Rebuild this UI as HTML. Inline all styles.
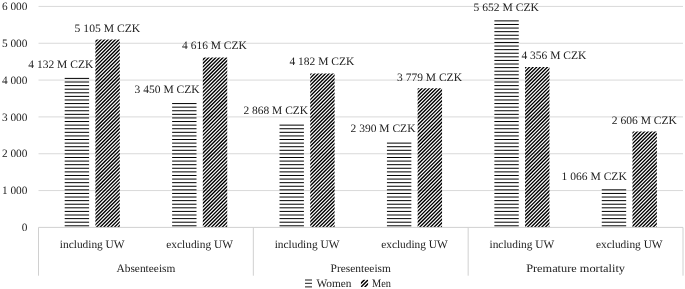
<!DOCTYPE html>
<html><head><meta charset="utf-8"><title>Chart</title>
<style>html,body{margin:0;padding:0;background:#fff;}body{width:685px;height:289px;overflow:hidden;}svg{display:block;will-change:transform;}text{font-family:"Liberation Serif", serif;font-size:11.3px;fill:#1c1c1c;text-rendering:geometricPrecision;}</style>
</head><body>
<svg width="685" height="289" viewBox="0 0 685 289">
<defs>
<clipPath id="mc0"><rect x="95.40" y="39.38" width="24.40" height="188.02"/></clipPath>
<clipPath id="mc1"><rect x="202.82" y="57.39" width="24.40" height="170.01"/></clipPath>
<clipPath id="mc2"><rect x="310.23" y="73.38" width="24.40" height="154.02"/></clipPath>
<clipPath id="mc3"><rect x="417.65" y="88.22" width="24.40" height="139.18"/></clipPath>
<clipPath id="mc4"><rect x="525.07" y="66.97" width="24.40" height="160.43"/></clipPath>
<clipPath id="mc5"><rect x="632.48" y="131.42" width="24.40" height="95.98"/></clipPath>
<clipPath id="lc"><rect x="360.9" y="279.8" width="7.2" height="7.2"/></clipPath>
</defs>
<rect width="685" height="289" fill="#fff"/>
<line x1="38.50" y1="190.57" x2="683.00" y2="190.57" stroke="#d9d9d9" stroke-width="1"/>
<line x1="38.50" y1="153.74" x2="683.00" y2="153.74" stroke="#d9d9d9" stroke-width="1"/>
<line x1="38.50" y1="116.91" x2="683.00" y2="116.91" stroke="#d9d9d9" stroke-width="1"/>
<line x1="38.50" y1="80.08" x2="683.00" y2="80.08" stroke="#d9d9d9" stroke-width="1"/>
<line x1="38.50" y1="43.25" x2="683.00" y2="43.25" stroke="#d9d9d9" stroke-width="1"/>
<line x1="38.50" y1="6.42" x2="683.00" y2="6.42" stroke="#d9d9d9" stroke-width="1"/>
<text x="27.4" y="231.15" text-anchor="end">0</text>
<text x="27.4" y="194.32" text-anchor="end">1 000</text>
<text x="27.4" y="157.49" text-anchor="end">2 000</text>
<text x="27.4" y="120.66" text-anchor="end">3 000</text>
<text x="27.4" y="83.83" text-anchor="end">4 000</text>
<text x="27.4" y="47.00" text-anchor="end">5 000</text>
<text x="27.4" y="10.17" text-anchor="end">6 000</text>
<path d="M64.70 225.800h24.40M64.70 222.205h24.40M64.70 218.610h24.40M64.70 215.015h24.40M64.70 211.420h24.40M64.70 207.825h24.40M64.70 204.230h24.40M64.70 200.635h24.40M64.70 197.040h24.40M64.70 193.445h24.40M64.70 189.850h24.40M64.70 186.255h24.40M64.70 182.660h24.40M64.70 179.065h24.40M64.70 175.470h24.40M64.70 171.875h24.40M64.70 168.280h24.40M64.70 164.685h24.40M64.70 161.090h24.40M64.70 157.495h24.40M64.70 153.900h24.40M64.70 150.305h24.40M64.70 146.710h24.40M64.70 143.115h24.40M64.70 139.520h24.40M64.70 135.925h24.40M64.70 132.330h24.40M64.70 128.735h24.40M64.70 125.140h24.40M64.70 121.545h24.40M64.70 117.950h24.40M64.70 114.355h24.40M64.70 110.760h24.40M64.70 107.165h24.40M64.70 103.570h24.40M64.70 99.975h24.40M64.70 96.380h24.40M64.70 92.785h24.40M64.70 89.190h24.40M64.70 85.595h24.40M64.70 82.000h24.40M64.70 78.405h24.40M172.12 225.800h24.40M172.12 222.205h24.40M172.12 218.610h24.40M172.12 215.015h24.40M172.12 211.420h24.40M172.12 207.825h24.40M172.12 204.230h24.40M172.12 200.635h24.40M172.12 197.040h24.40M172.12 193.445h24.40M172.12 189.850h24.40M172.12 186.255h24.40M172.12 182.660h24.40M172.12 179.065h24.40M172.12 175.470h24.40M172.12 171.875h24.40M172.12 168.280h24.40M172.12 164.685h24.40M172.12 161.090h24.40M172.12 157.495h24.40M172.12 153.900h24.40M172.12 150.305h24.40M172.12 146.710h24.40M172.12 143.115h24.40M172.12 139.520h24.40M172.12 135.925h24.40M172.12 132.330h24.40M172.12 128.735h24.40M172.12 125.140h24.40M172.12 121.545h24.40M172.12 117.950h24.40M172.12 114.355h24.40M172.12 110.760h24.40M172.12 107.165h24.40M172.12 103.570h24.40M279.53 225.800h24.40M279.53 222.205h24.40M279.53 218.610h24.40M279.53 215.015h24.40M279.53 211.420h24.40M279.53 207.825h24.40M279.53 204.230h24.40M279.53 200.635h24.40M279.53 197.040h24.40M279.53 193.445h24.40M279.53 189.850h24.40M279.53 186.255h24.40M279.53 182.660h24.40M279.53 179.065h24.40M279.53 175.470h24.40M279.53 171.875h24.40M279.53 168.280h24.40M279.53 164.685h24.40M279.53 161.090h24.40M279.53 157.495h24.40M279.53 153.900h24.40M279.53 150.305h24.40M279.53 146.710h24.40M279.53 143.115h24.40M279.53 139.520h24.40M279.53 135.925h24.40M279.53 132.330h24.40M279.53 128.735h24.40M279.53 125.140h24.40M386.95 225.800h24.40M386.95 222.205h24.40M386.95 218.610h24.40M386.95 215.015h24.40M386.95 211.420h24.40M386.95 207.825h24.40M386.95 204.230h24.40M386.95 200.635h24.40M386.95 197.040h24.40M386.95 193.445h24.40M386.95 189.850h24.40M386.95 186.255h24.40M386.95 182.660h24.40M386.95 179.065h24.40M386.95 175.470h24.40M386.95 171.875h24.40M386.95 168.280h24.40M386.95 164.685h24.40M386.95 161.090h24.40M386.95 157.495h24.40M386.95 153.900h24.40M386.95 150.305h24.40M386.95 146.710h24.40M386.95 143.115h24.40M494.37 225.800h24.40M494.37 222.205h24.40M494.37 218.610h24.40M494.37 215.015h24.40M494.37 211.420h24.40M494.37 207.825h24.40M494.37 204.230h24.40M494.37 200.635h24.40M494.37 197.040h24.40M494.37 193.445h24.40M494.37 189.850h24.40M494.37 186.255h24.40M494.37 182.660h24.40M494.37 179.065h24.40M494.37 175.470h24.40M494.37 171.875h24.40M494.37 168.280h24.40M494.37 164.685h24.40M494.37 161.090h24.40M494.37 157.495h24.40M494.37 153.900h24.40M494.37 150.305h24.40M494.37 146.710h24.40M494.37 143.115h24.40M494.37 139.520h24.40M494.37 135.925h24.40M494.37 132.330h24.40M494.37 128.735h24.40M494.37 125.140h24.40M494.37 121.545h24.40M494.37 117.950h24.40M494.37 114.355h24.40M494.37 110.760h24.40M494.37 107.165h24.40M494.37 103.570h24.40M494.37 99.975h24.40M494.37 96.380h24.40M494.37 92.785h24.40M494.37 89.190h24.40M494.37 85.595h24.40M494.37 82.000h24.40M494.37 78.405h24.40M494.37 74.810h24.40M494.37 71.215h24.40M494.37 67.620h24.40M494.37 64.025h24.40M494.37 60.430h24.40M494.37 56.835h24.40M494.37 53.240h24.40M494.37 49.645h24.40M494.37 46.050h24.40M494.37 42.455h24.40M494.37 38.860h24.40M494.37 35.265h24.40M494.37 31.670h24.40M494.37 28.075h24.40M494.37 24.480h24.40M494.37 20.885h24.40M601.78 225.800h24.40M601.78 222.205h24.40M601.78 218.610h24.40M601.78 215.015h24.40M601.78 211.420h24.40M601.78 207.825h24.40M601.78 204.230h24.40M601.78 200.635h24.40M601.78 197.040h24.40M601.78 193.445h24.40M601.78 189.850h24.40" stroke="#000" stroke-width="1.00" fill="none"/>
<path d="M93.40 40.01L96.03 37.38M93.40 43.60L99.62 37.38M93.40 47.19L103.21 37.38M93.40 50.78L106.80 37.38M93.40 54.37L110.39 37.38M93.40 57.96L113.98 37.38M93.40 61.56L117.57 37.38M93.40 65.15L121.16 37.38M93.40 68.74L121.80 40.34M93.40 72.33L121.80 43.93M93.40 75.92L121.80 47.52M93.40 79.51L121.80 51.11M93.40 83.10L121.80 54.70M93.40 86.69L121.80 58.29M93.40 90.28L121.80 61.88M93.40 93.87L121.80 65.47M93.40 97.46L121.80 69.06M93.40 101.05L121.80 72.65M93.40 104.64L121.80 76.24M93.40 108.23L121.80 79.83M93.40 111.82L121.80 83.42M93.40 115.41L121.80 87.01M93.40 119.00L121.80 90.60M93.40 122.60L121.80 94.20M93.40 126.19L121.80 97.79M93.40 129.78L121.80 101.38M93.40 133.37L121.80 104.97M93.40 136.96L121.80 108.56M93.40 140.55L121.80 112.15M93.40 144.14L121.80 115.74M93.40 147.73L121.80 119.33M93.40 151.32L121.80 122.92M93.40 154.91L121.80 126.51M93.40 158.50L121.80 130.10M93.40 162.09L121.80 133.69M93.40 165.68L121.80 137.28M93.40 169.27L121.80 140.87M93.40 172.86L121.80 144.46M93.40 176.45L121.80 148.05M93.40 180.04L121.80 151.64M93.40 183.64L121.80 155.24M93.40 187.23L121.80 158.83M93.40 190.82L121.80 162.42M93.40 194.41L121.80 166.01M93.40 198.00L121.80 169.60M93.40 201.59L121.80 173.19M93.40 205.18L121.80 176.78M93.40 208.77L121.80 180.37M93.40 212.36L121.80 183.96M93.40 215.95L121.80 187.55M93.40 219.54L121.80 191.14M93.40 223.13L121.80 194.73M93.40 226.72L121.80 198.32M94.31 229.40L121.80 201.91M97.90 229.40L121.80 205.50M101.49 229.40L121.80 209.09M105.09 229.40L121.80 212.69M108.68 229.40L121.80 216.28M112.27 229.40L121.80 219.87M115.86 229.40L121.80 223.46M119.45 229.40L121.80 227.05" stroke="#000" stroke-width="1.35" fill="none" clip-path="url(#mc0)"/>
<path d="M200.82 58.27L203.69 55.39M200.82 61.86L207.28 55.39M200.82 65.45L210.87 55.39M200.82 69.04L214.46 55.39M200.82 72.63L218.05 55.39M200.82 76.22L221.64 55.39M200.82 79.81L225.23 55.39M200.82 83.40L228.82 55.39M200.82 86.99L229.22 58.59M200.82 90.58L229.22 62.18M200.82 94.17L229.22 65.77M200.82 97.76L229.22 69.36M200.82 101.35L229.22 72.95M200.82 104.94L229.22 76.54M200.82 108.53L229.22 80.13M200.82 112.12L229.22 83.72M200.82 115.72L229.22 87.32M200.82 119.31L229.22 90.91M200.82 122.90L229.22 94.50M200.82 126.49L229.22 98.09M200.82 130.08L229.22 101.68M200.82 133.67L229.22 105.27M200.82 137.26L229.22 108.86M200.82 140.85L229.22 112.45M200.82 144.44L229.22 116.04M200.82 148.03L229.22 119.63M200.82 151.62L229.22 123.22M200.82 155.21L229.22 126.81M200.82 158.80L229.22 130.40M200.82 162.39L229.22 133.99M200.82 165.98L229.22 137.58M200.82 169.57L229.22 141.17M200.82 173.17L229.22 144.77M200.82 176.76L229.22 148.36M200.82 180.35L229.22 151.95M200.82 183.94L229.22 155.54M200.82 187.53L229.22 159.13M200.82 191.12L229.22 162.72M200.82 194.71L229.22 166.31M200.82 198.30L229.22 169.90M200.82 201.89L229.22 173.49M200.82 205.48L229.22 177.08M200.82 209.07L229.22 180.67M200.82 212.66L229.22 184.26M200.82 216.25L229.22 187.85M200.82 219.84L229.22 191.44M200.82 223.43L229.22 195.03M200.82 227.02L229.22 198.62M202.03 229.40L229.22 202.21M205.62 229.40L229.22 205.81M209.21 229.40L229.22 209.40M212.80 229.40L229.22 212.99M216.39 229.40L229.22 216.58M219.98 229.40L229.22 220.17M223.57 229.40L229.22 223.76M227.17 229.40L229.22 227.35" stroke="#000" stroke-width="1.35" fill="none" clip-path="url(#mc1)"/>
<path d="M308.23 72.93L309.79 71.38M308.23 76.52L313.38 71.38M308.23 80.11L316.97 71.38M308.23 83.70L320.56 71.38M308.23 87.29L324.15 71.38M308.23 90.88L327.74 71.38M308.23 94.47L331.33 71.38M308.23 98.06L334.92 71.38M308.23 101.65L336.63 73.25M308.23 105.25L336.63 76.85M308.23 108.84L336.63 80.44M308.23 112.43L336.63 84.03M308.23 116.02L336.63 87.62M308.23 119.61L336.63 91.21M308.23 123.20L336.63 94.80M308.23 126.79L336.63 98.39M308.23 130.38L336.63 101.98M308.23 133.97L336.63 105.57M308.23 137.56L336.63 109.16M308.23 141.15L336.63 112.75M308.23 144.74L336.63 116.34M308.23 148.33L336.63 119.93M308.23 151.92L336.63 123.52M308.23 155.51L336.63 127.11M308.23 159.10L336.63 130.70M308.23 162.69L336.63 134.29M308.23 166.29L336.63 137.89M308.23 169.88L336.63 141.48M308.23 173.47L336.63 145.07M308.23 177.06L336.63 148.66M308.23 180.65L336.63 152.25M308.23 184.24L336.63 155.84M308.23 187.83L336.63 159.43M308.23 191.42L336.63 163.02M308.23 195.01L336.63 166.61M308.23 198.60L336.63 170.20M308.23 202.19L336.63 173.79M308.23 205.78L336.63 177.38M308.23 209.37L336.63 180.97M308.23 212.96L336.63 184.56M308.23 216.55L336.63 188.15M308.23 220.14L336.63 191.74M308.23 223.73L336.63 195.33M308.23 227.33L336.63 198.93M309.75 229.40L336.63 202.52M313.34 229.40L336.63 206.11M316.93 229.40L336.63 209.70M320.52 229.40L336.63 213.29M324.11 229.40L336.63 216.88M327.70 229.40L336.63 220.47M331.29 229.40L336.63 224.06M334.88 229.40L336.63 227.65" stroke="#000" stroke-width="1.35" fill="none" clip-path="url(#mc2)"/>
<path d="M415.65 87.59L417.02 86.22M415.65 91.18L420.61 86.22M415.65 94.77L424.21 86.22M415.65 98.37L427.80 86.22M415.65 101.96L431.39 86.22M415.65 105.55L434.98 86.22M415.65 109.14L438.57 86.22M415.65 112.73L442.16 86.22M415.65 116.32L444.05 87.92M415.65 119.91L444.05 91.51M415.65 123.50L444.05 95.10M415.65 127.09L444.05 98.69M415.65 130.68L444.05 102.28M415.65 134.27L444.05 105.87M415.65 137.86L444.05 109.46M415.65 141.45L444.05 113.05M415.65 145.04L444.05 116.64M415.65 148.63L444.05 120.23M415.65 152.22L444.05 123.82M415.65 155.81L444.05 127.41M415.65 159.41L444.05 131.01M415.65 163.00L444.05 134.60M415.65 166.59L444.05 138.19M415.65 170.18L444.05 141.78M415.65 173.77L444.05 145.37M415.65 177.36L444.05 148.96M415.65 180.95L444.05 152.55M415.65 184.54L444.05 156.14M415.65 188.13L444.05 159.73M415.65 191.72L444.05 163.32M415.65 195.31L444.05 166.91M415.65 198.90L444.05 170.50M415.65 202.49L444.05 174.09M415.65 206.08L444.05 177.68M415.65 209.67L444.05 181.27M415.65 213.26L444.05 184.86M415.65 216.86L444.05 188.46M415.65 220.45L444.05 192.05M415.65 224.04L444.05 195.64M415.65 227.63L444.05 199.23M417.47 229.40L444.05 202.82M421.06 229.40L444.05 206.41M424.65 229.40L444.05 210.00M428.24 229.40L444.05 213.59M431.83 229.40L444.05 217.18M435.42 229.40L444.05 220.77M439.01 229.40L444.05 224.36M442.60 229.40L444.05 227.95" stroke="#000" stroke-width="1.35" fill="none" clip-path="url(#mc3)"/>
<path d="M523.07 66.35L524.45 64.97M523.07 69.94L528.04 64.97M523.07 73.53L531.63 64.97M523.07 77.12L535.22 64.97M523.07 80.71L538.81 64.97M523.07 84.30L542.40 64.97M523.07 87.89L545.99 64.97M523.07 91.49L549.58 64.97M523.07 95.08L551.47 66.68M523.07 98.67L551.47 70.27M523.07 102.26L551.47 73.86M523.07 105.85L551.47 77.45M523.07 109.44L551.47 81.04M523.07 113.03L551.47 84.63M523.07 116.62L551.47 88.22M523.07 120.21L551.47 91.81M523.07 123.80L551.47 95.40M523.07 127.39L551.47 98.99M523.07 130.98L551.47 102.58M523.07 134.57L551.47 106.17M523.07 138.16L551.47 109.76M523.07 141.75L551.47 113.35M523.07 145.34L551.47 116.94M523.07 148.93L551.47 120.53M523.07 152.53L551.47 124.13M523.07 156.12L551.47 127.72M523.07 159.71L551.47 131.31M523.07 163.30L551.47 134.90M523.07 166.89L551.47 138.49M523.07 170.48L551.47 142.08M523.07 174.07L551.47 145.67M523.07 177.66L551.47 149.26M523.07 181.25L551.47 152.85M523.07 184.84L551.47 156.44M523.07 188.43L551.47 160.03M523.07 192.02L551.47 163.62M523.07 195.61L551.47 167.21M523.07 199.20L551.47 170.80M523.07 202.79L551.47 174.39M523.07 206.38L551.47 177.98M523.07 209.98L551.47 181.58M523.07 213.57L551.47 185.17M523.07 217.16L551.47 188.76M523.07 220.75L551.47 192.35M523.07 224.34L551.47 195.94M523.07 227.93L551.47 199.53M525.19 229.40L551.47 203.12M528.78 229.40L551.47 206.71M532.37 229.40L551.47 210.30M535.96 229.40L551.47 213.89M539.55 229.40L551.47 217.48M543.14 229.40L551.47 221.07M546.73 229.40L551.47 224.66M550.32 229.40L551.47 228.25" stroke="#000" stroke-width="1.35" fill="none" clip-path="url(#mc4)"/>
<path d="M630.48 131.28L632.35 129.42M630.48 134.87L635.94 129.42M630.48 138.46L639.53 129.42M630.48 142.06L643.12 129.42M630.48 145.65L646.71 129.42M630.48 149.24L650.30 129.42M630.48 152.83L653.89 129.42M630.48 156.42L657.48 129.42M630.48 160.01L658.88 131.61M630.48 163.60L658.88 135.20M630.48 167.19L658.88 138.79M630.48 170.78L658.88 142.38M630.48 174.37L658.88 145.97M630.48 177.96L658.88 149.56M630.48 181.55L658.88 153.15M630.48 185.14L658.88 156.74M630.48 188.73L658.88 160.33M630.48 192.32L658.88 163.92M630.48 195.91L658.88 167.51M630.48 199.50L658.88 171.10M630.48 203.10L658.88 174.70M630.48 206.69L658.88 178.29M630.48 210.28L658.88 181.88M630.48 213.87L658.88 185.47M630.48 217.46L658.88 189.06M630.48 221.05L658.88 192.65M630.48 224.64L658.88 196.24M630.48 228.23L658.88 199.83M632.90 229.40L658.88 203.42M636.49 229.40L658.88 207.01M640.08 229.40L658.88 210.60M643.68 229.40L658.88 214.19M647.27 229.40L658.88 217.78M650.86 229.40L658.88 221.37M654.45 229.40L658.88 224.96M658.04 229.40L658.88 228.55" stroke="#000" stroke-width="1.35" fill="none" clip-path="url(#mc5)"/>
<line x1="38.50" y1="227.40" x2="683.00" y2="227.40" stroke="#d0d0d0" stroke-width="1"/>
<line x1="38.50" y1="227.40" x2="38.50" y2="275.7" stroke="#d0d0d0" stroke-width="1"/>
<line x1="253.33" y1="227.40" x2="253.33" y2="275.7" stroke="#d0d0d0" stroke-width="1"/>
<line x1="468.17" y1="227.40" x2="468.17" y2="275.7" stroke="#d0d0d0" stroke-width="1"/>
<line x1="683.00" y1="227.40" x2="683.00" y2="275.7" stroke="#d0d0d0" stroke-width="1"/>
<text x="28.36" y="68.40" textLength="64.89" lengthAdjust="spacingAndGlyphs">4 132 M CZK</text>
<text x="74.64" y="31.65" textLength="65.61" lengthAdjust="spacingAndGlyphs">5 105 M CZK</text>
<text x="134.60" y="92.65" textLength="65.05" lengthAdjust="spacingAndGlyphs">3 450 M CZK</text>
<text x="182.10" y="49.25" textLength="64.65" lengthAdjust="spacingAndGlyphs">4 616 M CZK</text>
<text x="243.50" y="113.91" textLength="64.55" lengthAdjust="spacingAndGlyphs">2 868 M CZK</text>
<text x="289.50" y="65.25" textLength="64.85" lengthAdjust="spacingAndGlyphs">4 182 M CZK</text>
<text x="350.60" y="131.55" textLength="64.85" lengthAdjust="spacingAndGlyphs">2 390 M CZK</text>
<text x="397.10" y="80.85" textLength="64.85" lengthAdjust="spacingAndGlyphs">3 779 M CZK</text>
<text x="473.60" y="11.05" textLength="65.35" lengthAdjust="spacingAndGlyphs">5 652 M CZK</text>
<text x="521.40" y="59.45" textLength="64.85" lengthAdjust="spacingAndGlyphs">4 356 M CZK</text>
<text x="561.60" y="180.10" textLength="65.15" lengthAdjust="spacingAndGlyphs">1 066 M CZK</text>
<text x="611.80" y="123.95" textLength="65.15" lengthAdjust="spacingAndGlyphs">2 606 M CZK</text>
<text x="92.21" y="247.6" text-anchor="middle" textLength="64.70" lengthAdjust="spacingAndGlyphs">including UW</text>
<text x="199.62" y="247.6" text-anchor="middle" textLength="66.60" lengthAdjust="spacingAndGlyphs">excluding UW</text>
<text x="307.04" y="247.6" text-anchor="middle" textLength="64.70" lengthAdjust="spacingAndGlyphs">including UW</text>
<text x="414.46" y="247.6" text-anchor="middle" textLength="66.60" lengthAdjust="spacingAndGlyphs">excluding UW</text>
<text x="521.88" y="247.6" text-anchor="middle" textLength="64.70" lengthAdjust="spacingAndGlyphs">including UW</text>
<text x="629.29" y="247.6" text-anchor="middle" textLength="66.60" lengthAdjust="spacingAndGlyphs">excluding UW</text>
<text x="145.92" y="272.0" text-anchor="middle" textLength="58.90" lengthAdjust="spacingAndGlyphs">Absenteeism</text>
<text x="360.75" y="272.0" text-anchor="middle" textLength="60.30" lengthAdjust="spacingAndGlyphs">Presenteeism</text>
<text x="575.58" y="272.0" text-anchor="middle" textLength="98.80" lengthAdjust="spacingAndGlyphs">Premature mortality</text>
<path d="M305 280.0h7M305 283.3h7M305 286.9h7" stroke="#000" stroke-width="0.9" fill="none"/>
<text x="316.5" y="286.5" textLength="35.0" lengthAdjust="spacingAndGlyphs">Women</text>
<path d="M357 287.2L365 279.2M360.8 287.2L368.8 279.2M364.6 287.2L372.6 279.2" stroke="#000" stroke-width="1.5" fill="none" clip-path="url(#lc)"/>
<text x="372" y="286.5" textLength="19.0" lengthAdjust="spacingAndGlyphs">Men</text>
</svg>
</body></html>
